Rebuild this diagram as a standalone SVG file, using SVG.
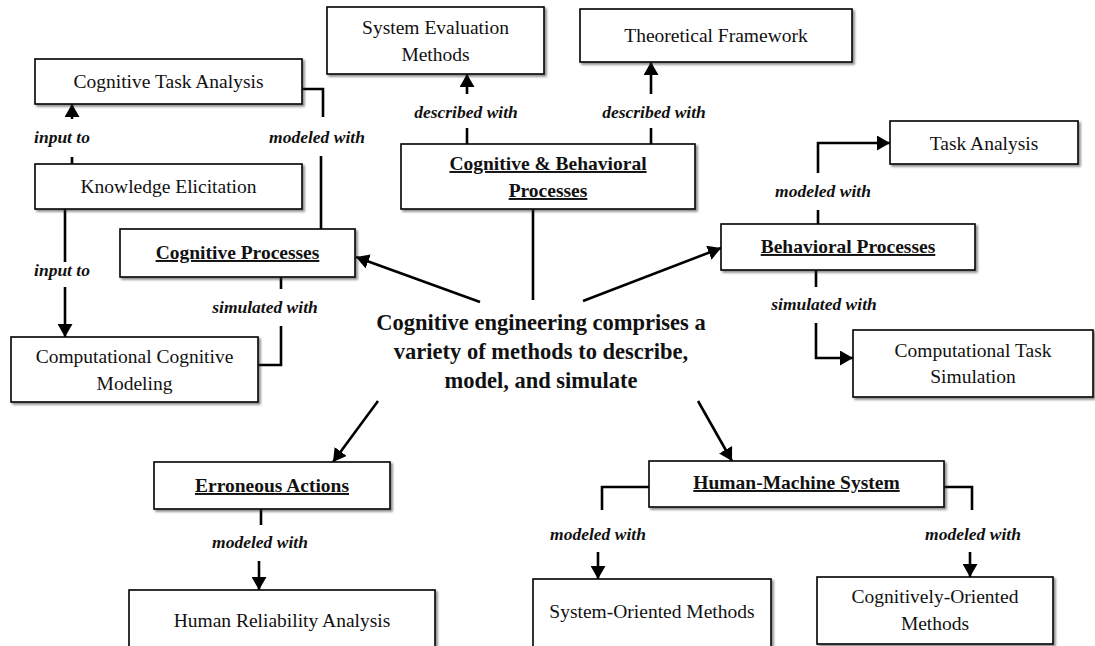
<svg xmlns="http://www.w3.org/2000/svg" width="1095" height="646" viewBox="0 0 1095 646">
  <defs>
    <filter id="shadow" x="-5%" y="-10%" width="115%" height="130%">
      <feDropShadow dx="2" dy="2" stdDeviation="1.2" flood-color="#333" flood-opacity="0.55"/>
    </filter>
    <marker id="arrow" markerUnits="userSpaceOnUse" markerWidth="13" markerHeight="15" viewBox="0 0 13 15" refX="13" refY="7.5" orient="auto">
      <path d="M0,0 L13,7.5 L0,15 z" fill="#000"/>
    </marker>
  </defs>
  <style>
    .box { fill: #fff; stroke: #000; stroke-width: 1.6; filter: url(#shadow); }
    .t { font-family: "Liberation Serif", "Times New Roman", serif; font-size: 19.5px; fill: #111; text-anchor: middle; }
    .h { font-family: "Liberation Serif", "Times New Roman", serif; font-size: 19.5px; font-weight: bold; fill: #111; text-anchor: middle; text-decoration: underline; }
    .lbl { font-family: "Liberation Serif", "Times New Roman", serif; font-size: 17.5px; font-weight: bold; font-style: italic; fill: #111; text-anchor: middle; }
    .main { font-family: "Liberation Serif", "Times New Roman", serif; font-size: 22.5px; font-weight: bold; fill: #111; text-anchor: middle; }
    .c { fill: none; stroke: #000; stroke-width: 2.6; }
    .a { fill: none; stroke: #000; stroke-width: 2.6; marker-end: url(#arrow); }
  </style>

  <rect width="1095" height="646" fill="#fff"/>

  <!-- connectors -->
  <g id="connectors">
    <!-- central statement to the five topic boxes -->
    <line class="a" x1="480" y1="302" x2="356" y2="257"/>
    <line class="c" x1="533" y1="209" x2="533" y2="300"/>
    <line class="a" x1="583" y1="301" x2="721" y2="248"/>
    <line class="a" x1="378" y1="401" x2="333" y2="462"/>
    <line class="a" x1="698" y1="401" x2="732" y2="461"/>

    <!-- knowledge elicitation -->
    <line class="c" x1="72" y1="164" x2="72" y2="157"/>
    <line class="a" x1="72" y1="119" x2="72" y2="104"/>
    <line class="c" x1="65" y1="209" x2="65" y2="262"/>
    <line class="a" x1="65" y1="287" x2="65" y2="337"/>

    <!-- cognitive processes -->
    <polyline class="c" points="302,89 323,89 323,117"/>
    <line class="c" x1="321" y1="156" x2="321" y2="229"/>
    <line class="c" x1="281" y1="277" x2="281" y2="289"/>
    <polyline class="c" points="281,326 281,365 258,365"/>

    <!-- cognitive & behavioral processes -->
    <line class="c" x1="467" y1="144" x2="467" y2="128"/>
    <line class="a" x1="467" y1="94" x2="467" y2="74"/>
    <line class="c" x1="651" y1="144" x2="651" y2="128"/>
    <line class="a" x1="651" y1="94" x2="651" y2="62"/>

    <!-- behavioral processes -->
    <line class="c" x1="818" y1="224" x2="818" y2="210"/>
    <polyline class="a" points="818,173 818,143 890,143"/>
    <line class="c" x1="816" y1="270" x2="816" y2="287"/>
    <polyline class="a" points="816,323 816,358 853,358"/>

    <!-- erroneous actions -->
    <line class="c" x1="261" y1="509" x2="261" y2="525"/>
    <line class="a" x1="259" y1="561" x2="259" y2="590"/>

    <!-- human-machine system -->
    <polyline class="c" points="649,487 602,487 602,510"/>
    <line class="a" x1="598" y1="552" x2="598" y2="579"/>
    <polyline class="c" points="944,487 972,487 972,510"/>
    <line class="a" x1="970" y1="552" x2="970" y2="577"/>
  </g>

  <!-- connector labels -->
  <g id="labels">
    <text class="lbl" x="62" y="143">input to</text>
    <text class="lbl" x="62" y="276">input to</text>
    <text class="lbl" x="317" y="143">modeled with</text>
    <text class="lbl" x="265" y="313">simulated with</text>
    <text class="lbl" x="466" y="118">described with</text>
    <text class="lbl" x="654" y="118">described with</text>
    <text class="lbl" x="823" y="197">modeled with</text>
    <text class="lbl" x="824" y="310">simulated with</text>
    <text class="lbl" x="260" y="548">modeled with</text>
    <text class="lbl" x="598" y="540">modeled with</text>
    <text class="lbl" x="973" y="540">modeled with</text>
  </g>

  <!-- central statement -->
  <g id="center">
    <text class="main" x="541" y="330">Cognitive engineering comprises a</text>
    <text class="main" x="541" y="359">variety of methods to describe,</text>
    <text class="main" x="541" y="388">model, and simulate</text>
  </g>

  <!-- nodes -->
  <g id="cognitive-task-analysis">
    <rect class="box" x="35" y="59" width="267" height="45"/>
    <text class="t" x="168.5" y="88">Cognitive Task Analysis</text>
  </g>
  <g id="knowledge-elicitation">
    <rect class="box" x="35" y="164" width="267" height="45"/>
    <text class="t" x="168.5" y="193">Knowledge Elicitation</text>
  </g>
  <g id="cognitive-processes">
    <rect class="box" x="120" y="229" width="235" height="48"/>
    <text class="h" x="237.5" y="259">Cognitive Processes</text>
  </g>
  <g id="computational-cognitive-modeling">
    <rect class="box" x="11" y="337" width="247" height="65"/>
    <text class="t" x="134.5" y="363">Computational Cognitive</text>
    <text class="t" x="134.5" y="390">Modeling</text>
  </g>
  <g id="system-evaluation-methods">
    <rect class="box" x="327" y="7" width="217" height="67"/>
    <text class="t" x="435.5" y="34">System Evaluation</text>
    <text class="t" x="435.5" y="61">Methods</text>
  </g>
  <g id="theoretical-framework">
    <rect class="box" x="580" y="9" width="272" height="53"/>
    <text class="t" x="716" y="42">Theoretical Framework</text>
  </g>
  <g id="cognitive-behavioral-processes">
    <rect class="box" x="401" y="144" width="294" height="65"/>
    <text class="h" x="548" y="170">Cognitive &amp; Behavioral</text>
    <text class="h" x="548" y="197">Processes</text>
  </g>
  <g id="task-analysis">
    <rect class="box" x="890" y="121" width="188" height="43"/>
    <text class="t" x="984" y="150">Task Analysis</text>
  </g>
  <g id="behavioral-processes">
    <rect class="box" x="721" y="224" width="254" height="46"/>
    <text class="h" x="848" y="253">Behavioral Processes</text>
  </g>
  <g id="computational-task-simulation">
    <rect class="box" x="853" y="330" width="240" height="67"/>
    <text class="t" x="973" y="357">Computational Task</text>
    <text class="t" x="973" y="383">Simulation</text>
  </g>
  <g id="erroneous-actions">
    <rect class="box" x="154" y="462" width="236" height="47"/>
    <text class="h" x="272" y="492">Erroneous Actions</text>
  </g>
  <g id="human-reliability-analysis">
    <rect class="box" x="129" y="590" width="306" height="60"/>
    <text class="t" x="282" y="627">Human Reliability Analysis</text>
  </g>
  <g id="human-machine-system">
    <rect class="box" x="649" y="461" width="295" height="46"/>
    <text class="h" x="796.5" y="489">Human-Machine System</text>
  </g>
  <g id="system-oriented-methods">
    <rect class="box" x="533" y="579" width="238" height="70"/>
    <text class="t" x="652" y="618">System-Oriented Methods</text>
  </g>
  <g id="cognitively-oriented-methods">
    <rect class="box" x="817" y="577" width="236" height="67"/>
    <text class="t" x="935" y="603">Cognitively-Oriented</text>
    <text class="t" x="935" y="630">Methods</text>
  </g>
</svg>
